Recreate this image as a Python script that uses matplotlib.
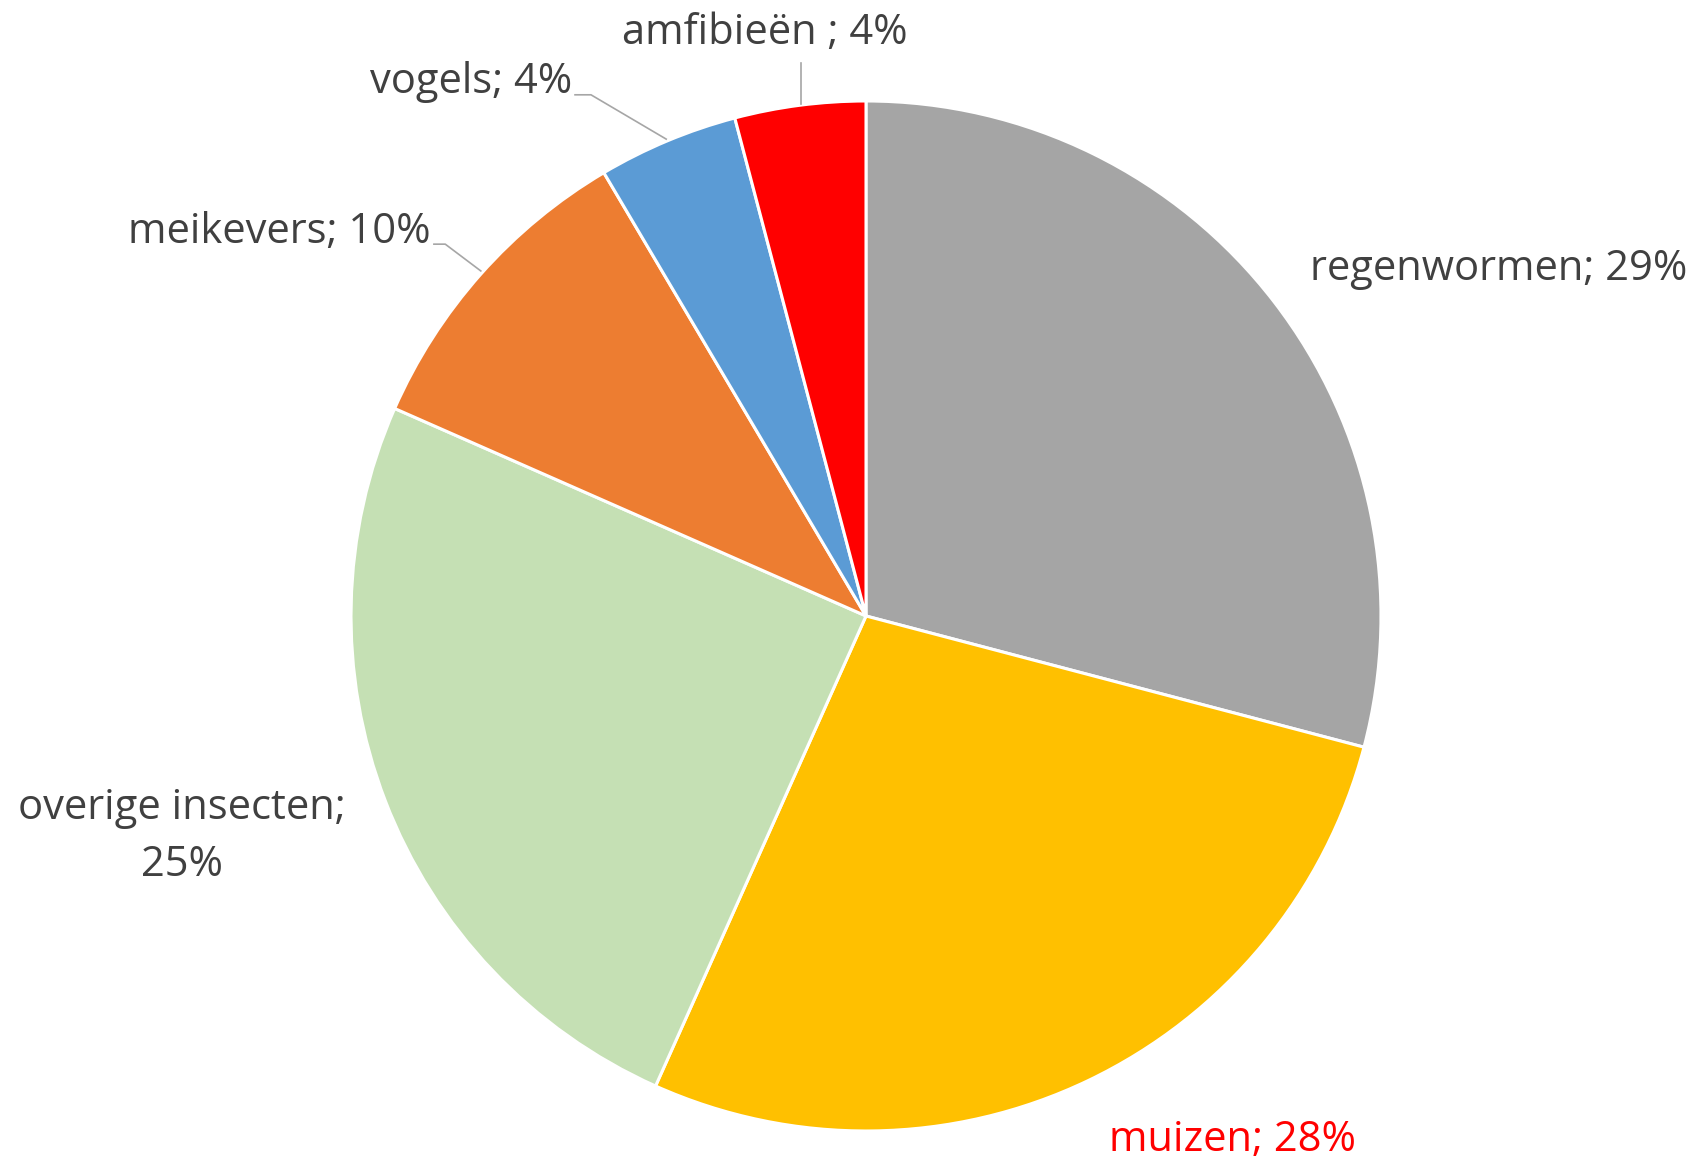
import matplotlib.pyplot as plt

# values (labels show rounded percentages)
categories = ["regenwormen", "muizen", "overige insecten", "meikevers", "vogels", "amfibieën"]
shares = [29.1, 27.6, 24.9, 9.9, 4.4, 4.1]
labels = ["regenwormen; 29%", "muizen; 28%", "overige insecten;\n25%",
          "meikevers; 10%", "vogels; 4%", "amfibieën ; 4%"]
colors = ["#A5A5A5", "#FFC000", "#C5E0B4", "#ED7D31", "#5B9BD5", "#FF0000"]
label_colors = ["#404040", "#FF0000", "#404040", "#404040", "#404040", "#404040"]

# label anchors (pie radius = 1)
label_pos = [(1.229, 0.674), (0.711, -1.018), (-1.328, -0.428),
             (-1.140, 0.746), (-0.767, 1.036), (-0.196, 1.132)]
leaders = {
    3: [(-0.839, 0.722), (-0.817, 0.722), (-0.748, 0.670)],
    4: [(-0.565, 1.012), (-0.534, 1.012), (-0.388, 0.926)],
    5: [(-0.126, 1.074), (-0.126, 0.994)],
}


def main():
    plt.rcParams["font.family"] = ["Open Sans", "DejaVu Sans"]
    fig = plt.figure(figsize=(17.01, 11.61), dpi=100)
    ax = fig.add_axes([0, 0, 1, 1])

    ax.pie(shares, colors=colors, startangle=90, counterclock=False,
           radius=1, wedgeprops=dict(edgecolor="white", linewidth=2.2))

    for i, (x, y) in enumerate(label_pos):
        ax.text(x, y, labels[i], ha="center", va="center", fontsize=30,
                color=label_colors[i], linespacing=1.45)

    for pts in leaders.values():
        xs, ys = zip(*pts)
        ax.plot(xs, ys, color="#A6A6A6", lw=1.2)

    ax.set_xlim(-1.6816, 1.6214)
    ax.set_ylim(-1.0583, 1.1961)
    ax.set_aspect("equal", adjustable="datalim")
    ax.axis("off")
    fig.savefig("out.png", dpi=100)


if __name__ == "__main__":
    main()
